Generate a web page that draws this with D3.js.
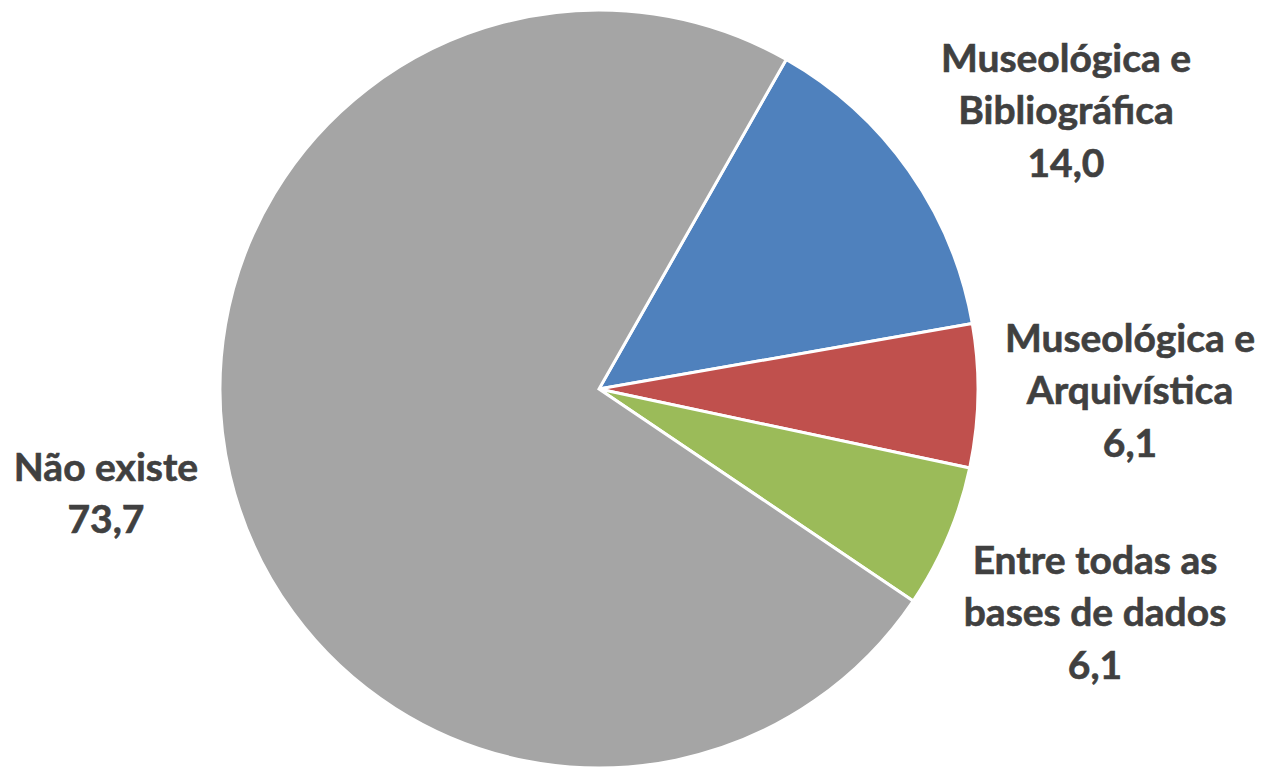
<!DOCTYPE html>
<html>
<head>
<meta charset="utf-8">
<script src="https://cdn.jsdelivr.net/npm/d3@7"></script>
<style>
  html, body { margin: 0; padding: 0; background: #fff; }
  svg { display: block; }
  .lbl { font-family: Lato, "Liberation Sans", sans-serif; font-weight: 700; fill: #404040; stroke: #404040; stroke-width: 0.6; }
</style>
</head>
<body>
<svg id="chart" width="1263" height="768"></svg>
<script>
// Slice categories (each label line), values and fills
const categories = [
  ["Museológica e", "Bibliográfica"],
  ["Museológica e", "Arquivística"],
  ["Entre todas as", "bases de dados"],
  ["Não existe"]
];
const values = [14.0, 6.1, 6.1, 73.7];
const colors = ["#4F81BD", "#C0504D", "#9BBB59", "#A5A5A5"];

// Label block centres (x, y of first line)
const labelPos = [
  [1066, 58],
  [1130, 338],
  [1095, 560],
  [106, 467]
];

const W = 1263, H = 768;
const cx = 599, cy = 389, R = 379;
const startAngle = 29.6 * Math.PI / 180;

const svg = d3.select("#chart");
const g = svg.append("g").attr("transform", `translate(${cx},${cy})`);

const pie = d3.pie().sort(null).value(d => d)
  .startAngle(startAngle).endAngle(startAngle + 2 * Math.PI);
const arcs = pie(values);
const arc = d3.arc().innerRadius(0).outerRadius(R);

g.selectAll("path.slice").data(arcs).join("path")
  .attr("class", "slice")
  .attr("d", arc)
  .attr("fill", (d, i) => colors[i])
  .attr("stroke", "#fff")
  .attr("stroke-width", 3)
  .attr("stroke-linejoin", "miter");

const fmt = v => d3.format(".1f")(v).replace(".", ",");
const lineH = 52.5;

const labels = svg.selectAll("text.lbl").data(arcs).join("text")
  .attr("class", "lbl")
  .attr("font-size", 39)
  .attr("text-anchor", "middle")
  .attr("x", (d, i) => labelPos[i][0])
  .attr("y", (d, i) => labelPos[i][1]);

labels.each(function(d, i) {
  const t = d3.select(this);
  const lines = categories[i].concat([fmt(d.data)]);
  lines.forEach((s, k) => {
    t.append("tspan")
      .attr("x", labelPos[i][0])
      .attr("y", labelPos[i][1] + k * lineH)
      .attr("dy", "0.35em")
      .text(s);
  });
});
</script>
</body>
</html>
